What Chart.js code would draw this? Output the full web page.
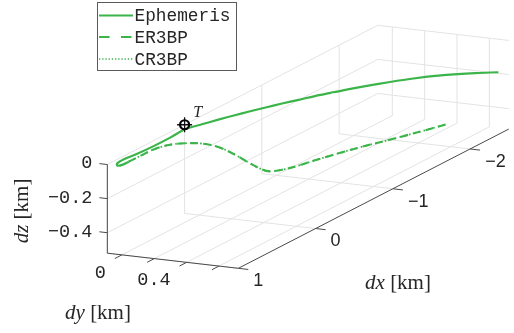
<!DOCTYPE html>
<html>
<head>
<meta charset="utf-8">
<script src="https://cdn.jsdelivr.net/npm/chart.js@4.4.0/dist/chart.umd.min.js"></script>
<style>
  html, body { margin: 0; padding: 0; background: #fff; overflow: hidden; }
  canvas { display: block; }
</style>
</head>
<body>
<canvas id="traj" width="514" height="333"></canvas>
<script>
// relative position of the chaser, km
const ephDx = [0.890, 0.965, 1.000, 0.959, 0.892, 0.820, 0.707, 0.512, 0.298, 0.087,
  -0.082, -0.244, -0.395, -0.552, -0.704, -0.845, -0.992, -1.136, -1.267, -1.405,
  -1.657, -1.899, -2.107, -2.286, -2.399];
const ephDy = [-0.010, -0.011, -0.027, -0.050, -0.058, -0.057, -0.045, -0.037, -0.037, -0.043,
  -0.022, 0.002, 0.026, 0.052, 0.081, 0.109, 0.141, 0.173, 0.206, 0.242,
  0.318, 0.406, 0.504, 0.615, 0.704];
const ephDz = [0, 0, 0, 0, 0, 0, 0, 0, 0, 0,
  -0.009, -0.017, -0.025, -0.034, -0.043, -0.051, -0.060, -0.068, -0.076, -0.085,
  -0.102, -0.119, -0.136, -0.153, -0.165];

const er3Dx = [0.890, 0.760, 0.580, 0.444, 0.378, 0.229, 0.080, -0.061, -0.210, -0.324,
  -0.385, -0.500, -0.649, -0.798, -0.938, -1.200, -1.500, -1.790, -2.000];
const er3Dy = [-0.010, -0.008, -0.004, 0.032, 0.096, 0.127, 0.157, 0.185, 0.216, 0.239,
  0.251, 0.274, 0.304, 0.335, 0.363, 0.417, 0.477, 0.536, 0.579];
const er3Dz = [0, 0, 0, 0, 0, -0.033, -0.085, -0.156, -0.243, -0.304,
  -0.326, -0.341, -0.348, -0.348, -0.351, -0.358, -0.372, -0.383, -0.389];

// CR3BP solution lies on top of the ER3BP one
const cr3Dx = er3Dx.slice();
const cr3Dy = er3Dy.slice();
const cr3Dz = er3Dz.slice();

const target = [0, -0.09, 0];

const dxLim = [-2.5, 1];
const dyLim = [-0.09, 0.72];
const dzLim = [-0.52, 0];
const dxTicks = [1, 0, -1, -2];
const dxTickLabels = ['1', '0', '\u22121', '\u22122'];
const dyTicks = [0, 0.2, 0.4, 0.6];
const dyTickLabels = ['0', '', '0.4', ''];
const dzTicks = [0, -0.2, -0.4];
const dzTickLabels = ['0', '\u22120.2', '\u22120.4'];

const seriesNames = ['Ephemeris', 'ER3BP', 'CR3BP'];

// orthographic view: screen offset per km along each axis
const viewOrigin = [197.1, 124.2];
const ex = [-80, 42], ey = [167.5, 19.7], ez = [0, -180];

function proj(x, y, z) {
  return {
    x: viewOrigin[0] + x * ex[0] + y * ey[0] + z * ez[0],
    y: viewOrigin[1] + x * ex[1] + y * ey[1] + z * ez[1]
  };
}
function curve(xs, ys, zs) {
  return xs.map((v, i) => proj(v, ys[i], zs[i]));
}

const green = '#3bb44a';
const textCol = '#262626';
const gridCol = '#e3e3e3';
const axisCol = '#4a4a4a';
const monoFont = '"Courier New", "Liberation Mono", monospace';
const sansFont = '"Liberation Sans", Arial, sans-serif';
const serifFont = '"Liberation Serif", "Times New Roman", serif';

function unit(v) {
  const l = Math.hypot(v[0], v[1]);
  return [v[0] / l, v[1] / l];
}

// italic symbol followed by upright units, LaTeX style
function mathLabel(ctx, sym, units, cx, cy, rot) {
  ctx.save();
  ctx.translate(cx, cy);
  ctx.rotate(rot);
  const fi = 'italic 21px ' + serifFont, fr = '21px ' + serifFont;
  ctx.font = fi; const w1 = ctx.measureText(sym).width;
  ctx.font = fr; const w2 = ctx.measureText(units).width;
  const x0 = -(w1 + w2) / 2;
  ctx.fillStyle = textCol;
  ctx.textBaseline = 'middle';
  ctx.textAlign = 'left';
  ctx.font = fi; ctx.fillText(sym, x0, 0);
  ctx.font = fr; ctx.fillText(units, x0 + w1, 0);
  ctx.restore();
}

const box3d = {
  id: 'box3d',
  beforeDatasetsDraw(chart) {
    const ctx = chart.ctx;
    const sx = chart.scales.x, sy = chart.scales.y;
    const P = (x, y, z) => {
      const p = proj(x, y, z);
      return [sx.getPixelForValue(p.x), sy.getPixelForValue(p.y)];
    };
    const seg = (a, b) => {
      const A = P(...a), B = P(...b);
      ctx.moveTo(A[0], A[1]);
      ctx.lineTo(B[0], B[1]);
    };
    ctx.save();

    // grid on floor and the two back walls
    ctx.strokeStyle = gridCol;
    ctx.lineWidth = 1;
    ctx.beginPath();
    dxTicks.forEach(x => {
      seg([x, dyLim[0], dzLim[0]], [x, dyLim[1], dzLim[0]]);
      seg([x, dyLim[0], dzLim[0]], [x, dyLim[0], dzLim[1]]);
    });
    dyTicks.forEach(y => {
      seg([dxLim[1], y, dzLim[0]], [dxLim[0], y, dzLim[0]]);
      seg([dxLim[0], y, dzLim[0]], [dxLim[0], y, dzLim[1]]);
    });
    dzTicks.forEach(z => {
      seg([dxLim[1], dyLim[0], z], [dxLim[0], dyLim[0], z]);
      seg([dxLim[0], dyLim[0], z], [dxLim[0], dyLim[1], z]);
    });
    ctx.stroke();

    // axis lines
    ctx.strokeStyle = axisCol;
    ctx.lineWidth = 1;
    ctx.beginPath();
    seg([dxLim[1], dyLim[0], dzLim[0]], [dxLim[1], dyLim[0], dzLim[1]]);
    seg([dxLim[1], dyLim[0], dzLim[0]], [dxLim[1], dyLim[1], dzLim[0]]);
    seg([dxLim[1], dyLim[1], dzLim[0]], [dxLim[0], dyLim[1], dzLim[0]]);

    const tz = unit([-ey[0], -ey[1]]), ty = unit(ex), tx = unit(ey);
    const tickLen = 8;
    const zEnds = dzTicks.map(z => {
      const a = P(dxLim[1], dyLim[0], z);
      const b = [a[0] + tz[0] * tickLen, a[1] + tz[1] * tickLen];
      ctx.moveTo(a[0], a[1]); ctx.lineTo(b[0], b[1]);
      return b;
    });
    const yBase = dyTicks.map(y => {
      const a = P(dxLim[1], y, dzLim[0]);
      ctx.moveTo(a[0], a[1]); ctx.lineTo(a[0] + ty[0] * tickLen, a[1] + ty[1] * tickLen);
      return a;
    });
    const xBase = dxTicks.map(x => {
      const a = P(x, dyLim[1], dzLim[0]);
      ctx.moveTo(a[0], a[1]); ctx.lineTo(a[0] + tx[0] * 10, a[1] + tx[1] * 10);
      return a;
    });
    ctx.stroke();

    // tick labels
    ctx.fillStyle = textCol;
    ctx.textBaseline = 'middle';
    ctx.font = '18.5px ' + monoFont;
    ctx.textAlign = 'right';
    zEnds.forEach((b, i) => ctx.fillText(dzTickLabels[i], b[0] - 7, b[1]));
    yBase.forEach((a, i) => ctx.fillText(dyTickLabels[i], a[0] - 16, a[1] + 18));
    ctx.font = '18px ' + sansFont;
    ctx.textAlign = 'left';
    xBase.forEach((a, i) => ctx.fillText(dxTickLabels[i], a[0] + 15, a[1] + 13));

    // axis titles
    mathLabel(ctx, 'dx', ' [km]', 398, 283, 0);
    mathLabel(ctx, 'dy', ' [km]', 98, 313, 0);
    mathLabel(ctx, 'dz', ' [km]', 22, 211, -Math.PI / 2);
    ctx.restore();
  },
  afterDatasetsDraw(chart) {
    const ctx = chart.ctx;
    const sx = chart.scales.x, sy = chart.scales.y;
    const t = proj(...target);
    ctx.save();
    ctx.fillStyle = textCol;
    ctx.font = 'italic 16px ' + serifFont;
    ctx.textAlign = 'center';
    ctx.textBaseline = 'middle';
    ctx.fillText('T', sx.getPixelForValue(t.x) + 13, sy.getPixelForValue(t.y) - 12);

    // legend
    ctx.fillStyle = '#fff';
    ctx.fillRect(97.5, 2.5, 139, 68);
    ctx.strokeStyle = '#5a5a5a';
    ctx.lineWidth = 1;
    ctx.strokeRect(97.5, 2.5, 139, 68);
    const rows = [15.5, 37, 59];
    const sampleDash = [[], [10.5, 11.5], [1.3, 1.9]];
    const sampleWidth = [2.2, 2.2, 1.6];
    rows.forEach((y, i) => {
      ctx.beginPath();
      ctx.strokeStyle = green;
      ctx.lineWidth = sampleWidth[i];
      ctx.setLineDash(sampleDash[i]);
      ctx.moveTo(99, y);
      ctx.lineTo(133, y);
      ctx.stroke();
      ctx.setLineDash([]);
      ctx.fillStyle = textCol;
      ctx.font = '17.8px ' + monoFont;
      ctx.textAlign = 'left';
      ctx.fillText(seriesNames[i], 134.5, y + 1);
    });
    ctx.restore();
  }
};

const tPoint = proj(...target);

new Chart(document.getElementById('traj'), {
  type: 'scatter',
  data: {
    datasets: [
      { label: 'T', data: [tPoint], pointStyle: 'circle', pointRadius: 4.5,
        borderColor: '#000', backgroundColor: 'rgba(0,0,0,0)', borderWidth: 2.2 },
      { label: 'T cross', data: [tPoint], pointStyle: 'cross', pointRadius: 7.5,
        borderColor: '#111', borderWidth: 1.3 },
      { label: seriesNames[0], data: curve(ephDx, ephDy, ephDz), showLine: true,
        borderColor: green, borderWidth: 2.2, pointRadius: 0, tension: 0.35 },
      { label: seriesNames[1], data: curve(er3Dx, er3Dy, er3Dz), showLine: true,
        borderColor: green, borderWidth: 2.1, borderDash: [8, 5], pointRadius: 0, tension: 0.35 },
      { label: seriesNames[2], data: curve(cr3Dx, cr3Dy, cr3Dz), showLine: true,
        borderColor: green, borderWidth: 1.8, borderDash: [1.6, 3.4], pointRadius: 0, tension: 0.35 }
    ]
  },
  options: {
    responsive: false,
    devicePixelRatio: 1,
    animation: false,
    events: [],
    layout: { padding: 0 },
    scales: {
      x: { type: 'linear', min: 0, max: 514, display: false },
      y: { type: 'linear', min: 0, max: 333, reverse: true, display: false }
    },
    plugins: { legend: { display: false }, tooltip: { enabled: false } }
  },
  plugins: [box3d]
});
</script>
</body>
</html>
